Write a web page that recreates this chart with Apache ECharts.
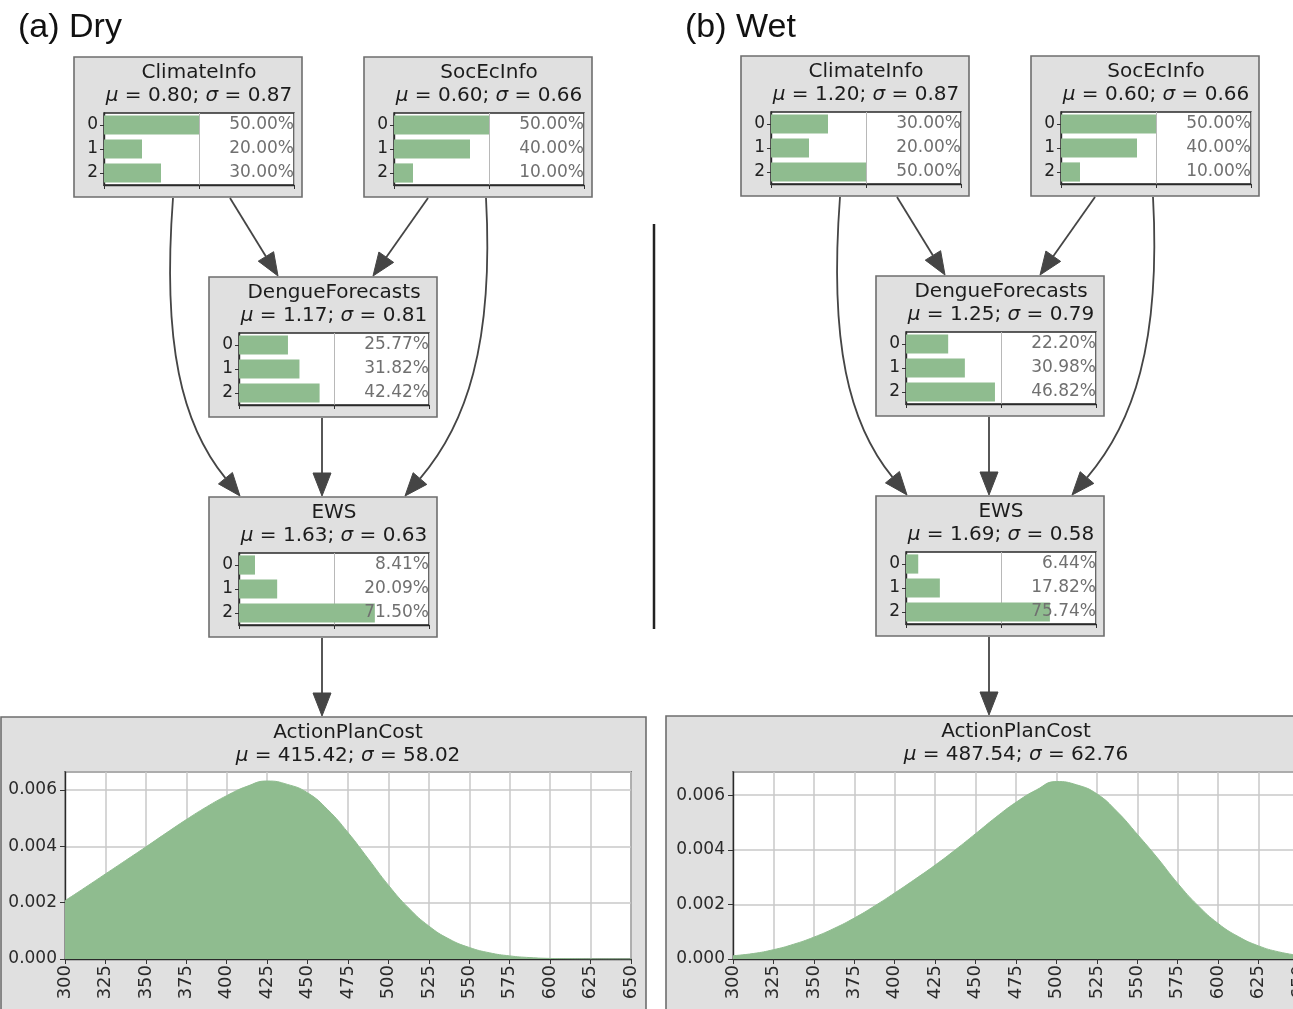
<!DOCTYPE html>
<html>
<head>
<meta charset="utf-8">
<script src="https://cdn.jsdelivr.net/npm/echarts@6/dist/echarts.min.js"></script>
<style>
html,body{margin:0;padding:0;background:#fff;}
#chart{width:1293px;height:1009px;}
</style>
</head>
<body>
<div id="chart"></div>
<script>
// ---------------- DATA ----------------
const states = ['0', '1', '2'];
const nodeNames = ['ClimateInfo', 'SocEcInfo', 'DengueForecasts', 'EWS', 'ActionPlanCost'];

const dryClimateInfo = [50.00, 20.00, 30.00];
const drySocEcInfo = [50.00, 40.00, 10.00];
const dryDengueForecasts = [25.77, 31.82, 42.42];
const dryEWS = [8.41, 20.09, 71.50];
const dryMu = [0.80, 0.60, 1.17, 1.63, 415.42];
const drySigma = [0.87, 0.66, 0.81, 0.63, 58.02];

const wetClimateInfo = [30.00, 20.00, 50.00];
const wetSocEcInfo = [50.00, 40.00, 10.00];
const wetDengueForecasts = [22.20, 30.98, 46.82];
const wetEWS = [6.44, 17.82, 75.74];
const wetMu = [1.20, 0.60, 1.25, 1.69, 487.54];
const wetSigma = [0.87, 0.66, 0.79, 0.58, 62.76];

const costX = [300, 312.5, 325, 337.5, 350, 362.5, 375, 387.5, 400, 412.5, 425, 437.5, 450, 462.5, 475, 487.5, 500, 512.5, 525, 537.5, 550, 562.5, 575, 587.5, 600, 612.5, 625, 637.5, 650];
const dryCostDensity = [0.00207, 0.00254, 0.00302, 0.00350, 0.00398, 0.00447, 0.00495, 0.00540, 0.00580, 0.00613, 0.00632, 0.00620, 0.00590, 0.00530, 0.00449, 0.00356, 0.00262, 0.00181, 0.00117, 0.00071, 0.00041, 0.00022, 0.00011, 0.00005, 0.00002, 0.00001, 0.000004, 0.000001, 0.0];
const wetCostDensity = [0.00012, 0.00020, 0.00034, 0.00054, 0.00080, 0.00112, 0.00150, 0.00194, 0.00242, 0.00292, 0.00344, 0.00400, 0.00459, 0.00519, 0.00574, 0.00619, 0.00650, 0.00638, 0.00605, 0.00540, 0.00457, 0.00370, 0.00277, 0.00196, 0.00130, 0.00082, 0.00048, 0.00026, 0.00013];
const dryCostMax = 0.00664;
const wetCostMax = 0.00685;

// ---------------- LAYOUT / STYLE ----------------
const FONT = 'DejaVu Sans';
const GREEN = '#8fbc8f';
const BOXFILL = '#e0e0e0';
const BOXSTROKE = '#6e6e6e';
const ARROW = '#454545';
const TXT = '#1c1c1c';

const grids = [], xAxes = [], yAxes = [], series = [], graphics = [];

function fmt(v) { return v.toFixed(2); }

function muText(cx, cy, mu, sigma) {
  graphics.push({
    type: 'text', x: cx, y: cy, z: 10,
    style: {
      text: '{i|\u03bc} = ' + fmt(mu) + '; {i|\u03c3} = ' + fmt(sigma),
      fontSize: 20, fontFamily: FONT, fill: TXT,
      align: 'center', verticalAlign: 'middle', textAlign: 'center', textVerticalAlign: 'middle',
      rich: { i: { fontStyle: 'italic', fontSize: 20, fontFamily: FONT, fill: TXT } }
    }
  });
}
function titleText(cx, cy, t) {
  graphics.push({
    type: 'text', x: cx, y: cy, z: 10,
    style: { text: t, fontSize: 20, fontFamily: FONT, fill: TXT,
      align: 'center', verticalAlign: 'middle', textAlign: 'center', textVerticalAlign: 'middle' }
  });
}

function barNode(bx, by, name, values, mu, sigma) {
  graphics.push({ type: 'rect', z: -5, shape: { x: bx, y: by, width: 228, height: 140 },
    style: { fill: BOXFILL, stroke: BOXSTROKE, lineWidth: 1.6 } });
  const left = bx + 30, top = by + 56, w = 190, h = 72;
  titleText(left + w / 2, by + 16, name);
  muText(left + w / 2, by + 39, mu, sigma);
  const gi = grids.length;
  grids.push({ left: left, top: top, width: w, height: h, show: true, backgroundColor: '#fff',
    borderColor: '#2a2a2a', borderWidth: 1.4, containLabel: false, outerBoundsMode: 'none' });
  xAxes.push({ gridIndex: gi, type: 'value', min: 0, max: 1, interval: 0.5,
    axisLabel: { show: false },
    axisLine: { show: true, lineStyle: { color: '#2a2a2a', width: 1.4 } },
    axisTick: { show: true, length: 4, lineStyle: { color: '#333' } },
    splitLine: { show: true, lineStyle: { color: '#b8b8b8', width: 1 } } });
  const yi = yAxes.length;
  yAxes.push({ gridIndex: gi, type: 'category', data: states, inverse: true,
    axisLine: { show: true, lineStyle: { color: '#2a2a2a', width: 1.4 } },
    axisTick: { show: true, alignWithLabel: true, length: 4, lineStyle: { color: '#333' } },
    axisLabel: { fontSize: 17, fontFamily: FONT, color: '#222', margin: 6 } });
  yAxes.push({ gridIndex: gi, type: 'category', position: 'right', inverse: true, z: 5,
    data: values.map(v => fmt(v) + '%'),
    axisLine: { show: false }, axisTick: { show: false }, splitLine: { show: false },
    axisLabel: { inside: true, margin: 0, align: 'right', fontSize: 17, fontFamily: FONT, color: '#707070' } });
  series.push({ type: 'bar', xAxisIndex: gi, yAxisIndex: yi, data: values.map(v => v / 100),
    barWidth: '80%', itemStyle: { color: GREEN }, silent: true });
}

function costNode(box, plot, name, mu, sigma, xs, ys, ymax) {
  graphics.push({ type: 'rect', z: -5, shape: box,
    style: { fill: BOXFILL, stroke: BOXSTROKE, lineWidth: 1.6 } });
  titleText(plot.left + plot.width / 2, box.y + 16, name);
  muText(plot.left + plot.width / 2, box.y + 39, mu, sigma);
  const gi = grids.length;
  grids.push({ left: plot.left, top: plot.top, width: plot.width, height: plot.height, show: true,
    backgroundColor: '#fff', borderColor: '#2a2a2a', borderWidth: 1.4, containLabel: false,
    outerBoundsMode: 'none' });
  xAxes.push({ gridIndex: gi, type: 'value', min: 300, max: 650, interval: 25,
    axisLine: { show: true, lineStyle: { color: '#2a2a2a', width: 1.4 } },
    axisTick: { show: true, length: 5, lineStyle: { color: '#333' } },
    axisLabel: { rotate: 90, fontSize: 18, fontFamily: FONT, color: '#2a2a2a', margin: 6 },
    splitLine: { show: true, lineStyle: { color: '#c8c8c8', width: 1.5 } } });
  const yi = yAxes.length;
  yAxes.push({ gridIndex: gi, type: 'value', min: 0, max: ymax, interval: 0.002,
    axisLine: { show: true, lineStyle: { color: '#2a2a2a', width: 1.4 } },
    axisTick: { show: true, length: 5, lineStyle: { color: '#333' } },
    axisLabel: { fontSize: 17, fontFamily: FONT, color: '#2a2a2a', margin: 8, showMaxLabel: false,
      formatter: v => (Math.abs(v / 0.002 - Math.round(v / 0.002)) < 1e-6 ? v.toFixed(3) : '') },
    splitLine: { show: true, lineStyle: { color: '#c8c8c8', width: 1.5 } } });
  series.push({ type: 'line', xAxisIndex: gi, yAxisIndex: yi, data: xs.map((x, i) => [x, ys[i]]),
    smooth: 0.5, showSymbol: false, symbol: 'none', silent: true,
    lineStyle: { color: GREEN, width: 1 }, areaStyle: { color: GREEN, opacity: 1 } });
}

function arrowHead(tip, from) {
  const dx = tip[0] - from[0], dy = tip[1] - from[1];
  const len = Math.sqrt(dx * dx + dy * dy);
  const ux = dx / len, uy = dy / len;
  const L = 23, W = 9;
  const base = [tip[0] - ux * L, tip[1] - uy * L];
  graphics.push({ type: 'polygon', z: 2, shape: { points: [tip,
      [base[0] - uy * W, base[1] + ux * W], [base[0] + uy * W, base[1] - ux * W]] },
    style: { fill: ARROW, stroke: ARROW, lineWidth: 1 } });
  return base;
}
function straightArrow(p1, tip) {
  const base = arrowHead(tip, p1);
  graphics.push({ type: 'line', z: 1, shape: { x1: p1[0], y1: p1[1], x2: base[0], y2: base[1] },
    style: { stroke: ARROW, lineWidth: 1.8 } });
}
function curvedArrow(p1, c1, c2, tip) {
  const base = arrowHead(tip, c2);
  graphics.push({ type: 'bezierCurve', z: 1, shape: { x1: p1[0], y1: p1[1], cpx1: c1[0], cpy1: c1[1],
      cpx2: c2[0], cpy2: c2[1], x2: base[0], y2: base[1] },
    style: { stroke: ARROW, lineWidth: 1.8, fill: null } });
}

function panel(dx, dy, label, ci, se, df, ews, mu, sigma, costY, costMax, costBox) {
  graphics.push({ type: 'text', x: 18 + dx, y: 28, z: 10,
    style: { text: label, fontSize: 34, fontFamily: 'Liberation Sans', fill: '#111',
      align: 'left', verticalAlign: 'middle', textAlign: 'left', textVerticalAlign: 'middle' } });
  barNode(74 + dx, 57 + dy, nodeNames[0], ci, mu[0], sigma[0]);
  barNode(364 + dx, 57 + dy, nodeNames[1], se, mu[1], sigma[1]);
  barNode(209 + dx, 277 + dy, nodeNames[2], df, mu[2], sigma[2]);
  barNode(209 + dx, 497 + dy, nodeNames[3], ews, mu[3], sigma[3]);
  costNode(costBox, { left: 65 + dx + (dx ? 1 : 0), top: 772, width: 566, height: 187 },
    nodeNames[4], mu[4], sigma[4], costX, costY, costMax);
  const P = (x, y) => [x + dx, y + dy];
  straightArrow(P(230, 198), P(278, 276));
  straightArrow(P(428, 198), P(373, 276));
  curvedArrow(P(173, 198), P(162, 345), P(182, 425), P(240, 496));
  curvedArrow(P(486, 198), P(494, 345), P(466, 425), P(405, 496));
  straightArrow(P(322, 418), P(322, 496));
  straightArrow(P(322, 638), P(322, 716));
}

panel(0, 0, '(a) Dry', dryClimateInfo, drySocEcInfo, dryDengueForecasts, dryEWS, dryMu, drySigma,
  dryCostDensity, dryCostMax, { x: 1, y: 717, width: 645, height: 320 });
panel(667, -1, '(b) Wet', wetClimateInfo, wetSocEcInfo, wetDengueForecasts, wetEWS, wetMu, wetSigma,
  wetCostDensity, wetCostMax, { x: 666, y: 716, width: 660, height: 320 });

// divider
graphics.push({ type: 'line', z: 1, shape: { x1: 654, y1: 224, x2: 654, y2: 629 },
  style: { stroke: '#222', lineWidth: 2.5 } });

const chart = echarts.init(document.getElementById('chart'), null, { renderer: 'canvas' });
chart.setOption({
  backgroundColor: '#fff',
  animation: false,
  grid: grids,
  xAxis: xAxes,
  yAxis: yAxes,
  series: series,
  graphic: { elements: graphics }
});
</script>
</body>
</html>
